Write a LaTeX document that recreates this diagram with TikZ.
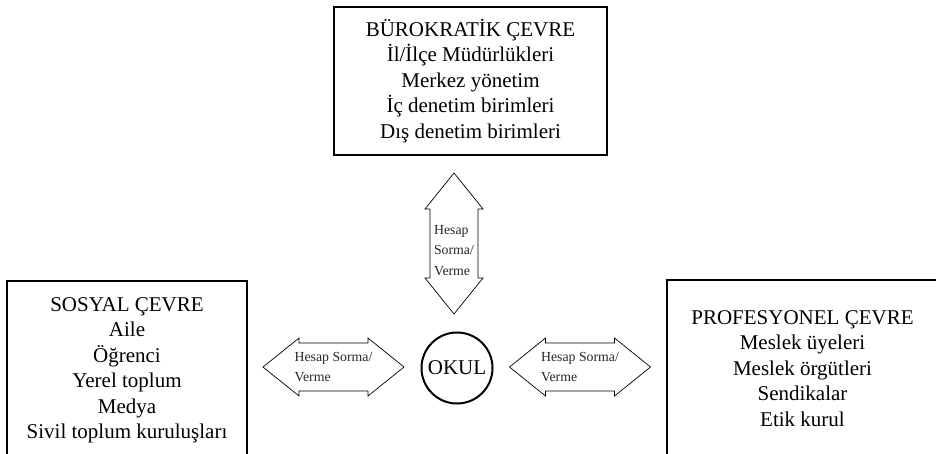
\documentclass[tikz,border=0pt]{standalone}
\usepackage{fontspec}
\setmainfont{Liberation Serif}
\usepackage{tikz}
\usetikzlibrary{positioning}

\tikzset{
  cevre/.style={draw, line width=2pt, align=center, inner sep=0pt,
                font=\fontsize{21}{25.5}\selectfont},
  okul/.style={circle, draw, line width=2pt, minimum size=71pt, inner sep=0pt,
               font=\fontsize{21}{25.5}\selectfont},
  hesapok/.style={draw, line width=0.7pt, line join=miter},
  hesapyazi/.style={align=left, inner sep=0pt, text=black!85,
                    font=\fontsize{13.8}{20.5}\selectfont}
}

\begin{document}
\begin{tikzpicture}[x=1pt,y=-1pt]
\useasboundingbox (0,0) rectangle (936,453);
\clip (0,0) rectangle (936,453);

% cevreler
\node[cevre, minimum width=273pt, minimum height=148pt] (burokratik) at (470.5,81)
  {BÜROKRATİK ÇEVRE\\İl/İlçe Müdürlükleri\\Merkez yönetim\\İç denetim birimleri\\Dış denetim birimleri};
\node[cevre, minimum width=240pt, minimum height=179pt] (sosyal) at (127,370.5)
  {SOSYAL ÇEVRE\\Aile\\Öğrenci\\Yerel toplum\\Medya\\Sivil toplum kuruluşları};
\node[cevre, minimum width=271pt, minimum height=177pt] (profesyonel) at (802.5,368.5)
  {PROFESYONEL ÇEVRE\\Meslek üyeleri\\Meslek örgütleri\\Sendikalar\\Etik kurul};

\node[okul] (okul) at (457,368) {OKUL};

% hesap sorma/verme oklari
\coordinate (okbu) at (454,243.5);
\coordinate (okso) at (333.5,367);
\coordinate (okpr) at (580,367);

\foreach \o/\a in {okbu/90,okso/0,okpr/0}
  \draw[hesapok, shift={(\o)}, rotate=\a]
    (-70.5,0) -- (-34.5,-29) -- (-34.5,-24) -- (34.5,-24) -- (34.5,-29)
    -- (70.5,0) -- (34.5,29) -- (34.5,24) -- (-34.5,24) -- (-34.5,29) -- cycle;

\node[hesapyazi, yshift=-7pt] (okbu-yazi) at (okbu) {Hesap\\Sorma/\\Verme};
\foreach \o in {okso,okpr}
  \node[hesapyazi] (\o-yazi) at (\o) {Hesap Sorma/\\Verme};
\end{tikzpicture}
\end{document}
